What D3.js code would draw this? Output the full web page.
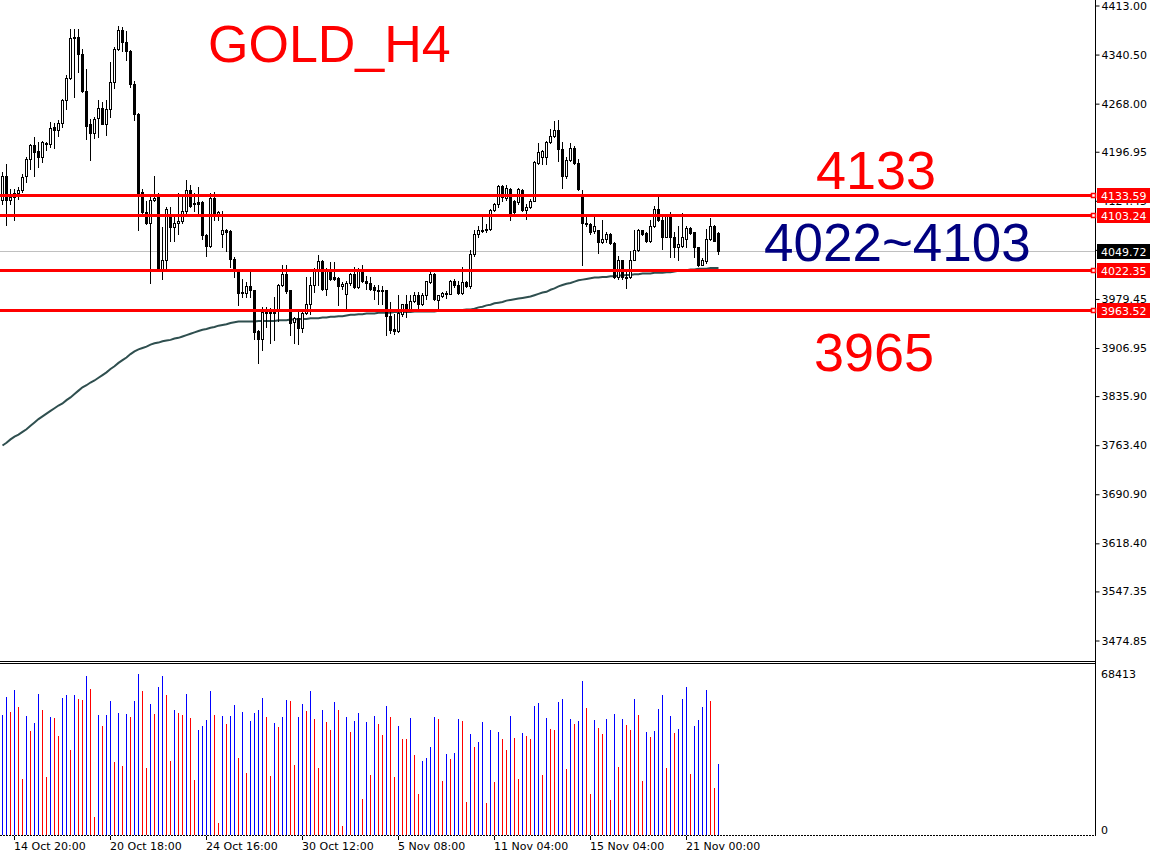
<!DOCTYPE html>
<html><head><meta charset="utf-8">
<script src="https://cdn.jsdelivr.net/npm/d3@7"></script>
<style>html,body{margin:0;padding:0;background:#fff;}svg{display:block;}</style>
</head><body>
<svg id="c" width="1150" height="856"></svg>
<script>
// ---- DATA ----
const timeTickIndex = [3, 27, 51, 75, 99, 123, 147, 171];
const timeTickLabels = ["14 Oct 20:00", "20 Oct 18:00", "24 Oct 16:00", "30 Oct 12:00", "5 Nov 08:00", "11 Nov 04:00", "15 Nov 04:00", "21 Nov 00:00"];
const priceTicks = [4413.00, 4340.50, 4268.00, 4196.95, 4124.45, 4051.95, 3979.45, 3906.95, 3835.90, 3763.40, 3690.90, 3618.40, 3547.35, 3474.85];
const levels = [4133.59, 4103.24, 4022.35, 3963.52];
const lastPrice = 4049.72;
const volumeTicks = [68413, 0];

const open = [4125.9,4161.8,4125.9,4129.8,4135.7,4140.7,4160.4,4186.5,4207.6,4197.8,4189.9,4209.6,4208.6,4233.3,4229.3,4239.7,4272.7,4306.1,4365.2,4367.2,4341.6,4287.4,4237.2,4224.4,4247.0,4261.8,4238.2,4260.3,4299.7,4349.0,4377.1,4358.8,4346.5,4297.3,4253.0,4137.2,4108.6,4091.4,4125.9,4129.8,4023.9,4036.3,4100.3,4085.5,4091.4,4094.4,4109.2,4140.7,4119.0,4122.5,4122.5,4073.2,4058.4,4128.8,4105.2,4075.7,4080.6,4079.6,4038.7,4022.5,3988.0,3988.0,3997.9,3992.0,3931.9,3920.5,3959.9,3958.5,3959.9,3962.4,4000.8,4015.6,3992.0,3945.2,3951.6,3936.8,3959.0,3972.3,4000.8,4021.5,4034.8,3994.4,4020.5,4011.7,4010.7,3998.9,3987.0,4002.8,4016.6,3996.9,4022.5,4006.7,4002.8,3996.9,3993.0,3993.0,3993.0,3955.0,3935.3,3931.9,3957.5,3971.3,3964.4,3976.2,3986.0,3971.3,3986.0,4004.3,4016.6,3977.2,3984.1,3988.0,3987.0,4006.7,3999.4,3988.0,4004.3,3997.9,4046.1,4074.7,4080.6,4080.6,4083.0,4111.1,4119.0,4145.6,4128.8,4142.1,4124.9,4122.5,4140.7,4111.1,4116.0,4124.9,4180.1,4188.9,4189.9,4211.1,4219.5,4229.3,4201.2,4161.8,4185.0,4202.7,4181.0,4134.8,4091.4,4090.4,4079.6,4080.6,4063.3,4068.3,4075.7,4061.9,4011.6,4036.3,4011.6,4011.6,4037.2,4052.0,4080.6,4076.6,4064.8,4086.5,4112.6,4096.3,4071.7,4102.7,4071.7,4056.9,4058.4,4068.3,4084.0,4078.1,4055.9,4030.3,4035.3,4068.3,4086.5,4076.6];
const high = [4166.8,4179.1,4142.1,4142.1,4144.6,4164.3,4189.9,4208.6,4218.5,4211.1,4212.6,4211.1,4240.6,4239.2,4243.1,4275.1,4309.6,4378.5,4378.5,4378.5,4349.0,4319.4,4245.6,4248.0,4273.6,4270.2,4272.7,4329.3,4351.5,4382.0,4381.0,4375.1,4347.5,4301.2,4253.5,4142.1,4124.9,4129.8,4160.4,4135.7,4085.5,4115.1,4116.0,4105.2,4135.7,4129.8,4154.5,4147.1,4135.7,4144.6,4124.9,4075.7,4135.7,4137.2,4109.2,4109.2,4082.5,4080.6,4041.2,4022.5,4009.2,4004.3,4019.0,3992.5,3932.9,3968.3,3967.3,3966.3,3982.1,4001.8,4028.9,4028.9,3993.0,3952.6,3964.9,3962.4,4011.7,4012.6,4024.5,4045.1,4036.3,4025.0,4033.8,4033.8,4011.7,4004.3,4006.7,4017.6,4026.5,4025.4,4028.9,4014.1,4012.6,3999.4,3999.4,3997.9,3993.0,3974.7,3957.5,3986.0,3972.3,3986.0,3986.0,3989.5,3989.5,3988.0,4006.7,4019.0,4017.6,3986.0,3989.5,3991.0,4007.7,4009.2,4006.7,4026.5,4005.7,4052.0,4080.6,4086.5,4105.2,4089.5,4112.6,4121.0,4148.5,4148.5,4147.1,4143.6,4125.9,4143.6,4142.1,4120.0,4127.4,4184.0,4209.6,4198.8,4212.6,4230.8,4242.1,4244.1,4211.1,4189.9,4209.6,4204.7,4186.5,4139.7,4105.2,4091.4,4105.2,4081.6,4095.4,4078.1,4076.6,4063.3,4043.6,4037.2,4024.0,4051.0,4081.6,4083.0,4081.6,4078.1,4095.4,4117.5,4129.8,4102.7,4105.2,4107.7,4078.1,4086.5,4106.2,4086.5,4085.5,4078.6,4056.4,4040.2,4083.0,4099.3,4088.0,4078.1];
const low = [4119.0,4089.4,4119.0,4095.4,4127.4,4137.2,4152.0,4171.7,4161.8,4174.2,4181.5,4198.8,4203.7,4202.7,4219.5,4233.3,4260.3,4305.0,4277.6,4314.5,4285.0,4216.0,4185.0,4217.5,4218.5,4237.2,4221.0,4248.0,4291.4,4347.5,4345.5,4331.8,4293.3,4243.1,4080.6,4102.8,4090.4,4002.8,4124.9,4022.5,4009.2,4020.5,4065.8,4064.8,4075.7,4091.4,4105.2,4116.0,4109.2,4105.2,4068.3,4042.2,4056.9,4095.4,4095.4,4056.0,4051.0,4026.4,4011.6,3969.8,3982.1,3982.1,3982.1,3920.5,3884.6,3903.3,3937.8,3914.1,3919.1,3946.6,3997.9,3988.0,3925.5,3914.1,3913.2,3930.4,3957.5,3957.5,3989.5,3999.4,3993.0,3986.0,4007.7,4007.7,3969.8,3994.4,3963.4,4000.8,3995.9,3995.9,4004.3,3994.4,3993.0,3979.6,3971.3,3971.3,3925.5,3928.9,3927.9,3930.4,3955.0,3953.5,3963.4,3974.7,3964.9,3969.8,3979.6,4002.8,3977.2,3963.4,3982.1,3981.1,3987.0,3996.9,3987.0,3987.0,3996.9,3995.9,4043.6,4071.7,4078.1,4078.1,4080.6,4110.1,4116.0,4124.9,4125.9,4096.3,4102.7,4120.0,4110.1,4097.8,4114.1,4123.9,4179.1,4178.1,4178.1,4209.6,4218.5,4183.0,4143.6,4158.4,4184.0,4179.1,4139.7,4028.9,4086.5,4075.7,4076.6,4047.1,4061.9,4063.3,4060.9,4010.6,4009.2,4009.2,3995.9,4010.6,4036.3,4051.0,4073.2,4063.3,4063.3,4085.5,4094.4,4053.5,4070.7,4041.2,4041.2,4037.2,4055.9,4055.9,4075.7,4041.2,4027.4,4028.9,4032.3,4066.8,4064.8,4046.1];
const close = [4161.8,4125.9,4129.8,4135.7,4140.7,4159.4,4186.5,4207.6,4196.3,4189.0,4211.1,4208.1,4232.3,4229.3,4239.7,4272.7,4306.1,4365.2,4367.2,4341.6,4286.4,4235.7,4224.4,4245.6,4261.8,4238.2,4260.3,4299.7,4349.0,4377.1,4358.8,4345.5,4297.3,4253.0,4135.7,4107.7,4091.4,4125.9,4128.8,4023.9,4036.3,4112.6,4085.5,4091.4,4094.4,4109.2,4140.7,4117.5,4121.0,4120.0,4073.2,4058.4,4128.8,4105.2,4107.7,4080.6,4079.1,4038.7,4021.5,3988.0,3989.5,3997.9,3992.0,3930.4,3920.5,3959.9,3958.5,3959.9,3960.5,4000.8,4015.6,3991.0,3943.7,3951.6,3936.8,3959.0,3972.3,4000.8,4024.0,4034.8,3994.4,4022.5,4009.2,4008.7,3998.4,4001.8,4002.8,4016.6,3996.9,4022.5,4005.7,4002.8,3994.4,3993.0,3991.5,3991.0,3954.0,3933.8,3931.9,3958.5,3971.3,3963.4,3976.2,3986.0,3971.3,3986.0,4005.7,4016.6,3979.6,3984.6,3988.0,3987.0,4006.7,3999.4,3988.0,4004.3,3997.9,4046.1,4074.7,4080.6,4081.6,4083.0,4111.1,4119.0,4145.6,4129.8,4143.6,4105.2,4107.7,4142.1,4111.1,4116.0,4124.9,4181.5,4196.3,4197.8,4211.1,4219.5,4229.3,4201.2,4161.8,4185.0,4202.7,4180.1,4142.1,4091.4,4089.5,4078.1,4086.5,4063.3,4068.3,4075.7,4061.9,4011.6,4036.3,4011.6,4012.6,4037.2,4052.0,4080.6,4075.7,4064.8,4086.5,4112.6,4095.4,4071.7,4102.7,4071.7,4056.9,4060.9,4071.7,4084.0,4076.6,4055.9,4028.9,4036.3,4068.3,4086.5,4065.8,4049.72];
const ma = [3763,3767,3772,3776,3779,3783,3787,3792,3797,3802,3806,3810,3814,3818,3822,3825,3830,3834,3839,3844,3849,3852,3856,3859,3863,3867,3871,3876,3880,3885,3889,3893,3898,3902,3905,3907,3909,3912,3914,3915,3917,3918,3919,3921,3922,3924,3926,3928,3930,3932,3934,3935,3937,3938,3940,3941,3942,3944,3945,3946,3946,3946,3946,3946,3947,3947,3947,3947,3947,3948,3948,3948,3949,3949,3950,3950,3950,3951,3951,3951,3952,3952,3953,3953,3954,3954,3955,3956,3956,3957,3957,3958,3958,3958,3959,3959,3959,3959,3960,3960,3960,3960,3960,3961,3961,3961,3961,3961,3961,3962,3962,3962,3962,3963,3963,3963,3964,3964,3965,3967,3968,3970,3971,3973,3974,3975,3977,3978,3979,3980,3981,3982,3983,3985,3987,3989,3990,3993,3995,3998,4000,4002,4003,4005,4007,4008,4009,4010,4011,4011,4012,4012,4013,4013,4014,4014,4015,4015,4016,4016,4017,4017,4017,4018,4018,4018,4019,4019,4020,4021,4021,4022,4023,4023,4024,4024,4024,4025,4025,4025];
const volume = [50989,58495,52264,61611,54388,23796,50564,44191,47590,59912,53113,24646,50139,49714,42066,58212,59487,36118,59628,57787,57362,67560,62036,7650,50989,46315,50989,56938,31019,51839,29320,51414,50139,56938,68413,61186,28470,55663,51414,62886,67560,59487,31444,53113,51839,50989,59912,49714,23371,44616,46315,48865,61186,50989,5101,50564,47165,50564,55238,32719,52264,26345,48440,51839,53113,58212,50139,25071,47590,45890,50139,57362,56938,29745,50139,55663,52689,61186,49289,28470,53113,48015,44616,56513,53113,3826,50139,43766,48440,51839,15298,48015,25496,50564,47165,42491,54813,50139,24646,46315,40792,40650,49714,33993,17423,31444,32719,37393,50139,49289,22946,34418,32294,34843,49289,48440,14024,42916,37393,39517,48015,13599,44616,22521,43766,40792,36118,50564,41217,23796,43341,42066,40792,54813,56088,25496,49714,45041,44616,56513,57787,28045,49289,47165,48440,65435,53963,17423,48865,45465,42916,49289,14873,51414,28895,49289,46740,44616,57787,50989,22946,43766,41641,44191,53538,59487,28470,50564,43341,45041,57787,62886,25921,46315,48865,54388,61611,56938,19972,30169];

// ---- CHART ----
const svg = d3.select("#c");
const W = 1150, H = 856, axisX = 1095.5;
const x = d3.scaleLinear().domain([0, 273]).range([2.5, 1094.5]);
const y = d3.scaleLinear().domain([4413, 3474.85]).range([5.5, 640.5]);
const yv = d3.scaleLinear().domain([0, 68413]).range([835, 674]);
const px = i => Math.floor(x(i));
const ly = v => Math.round(y(v)) + 0.5;

svg.append("rect").attr("width", W).attr("height", H).attr("fill", "#fff");
svg.append("defs").append("clipPath").attr("id", "mainClip")
  .append("rect").attr("x", 0).attr("y", 0).attr("width", axisX).attr("height", 660);

const main = svg.append("g").attr("clip-path", "url(#mainClip)");

// current price grey line
main.append("line").attr("x1", 0).attr("x2", axisX).attr("y1", ly(lastPrice)).attr("y2", ly(lastPrice))
  .attr("stroke", "#c0c0c0").attr("stroke-width", 1);

// moving average
main.append("path").datum(ma)
  .attr("d", d3.line().x((d, i) => x(i)).y(d => y(d)))
  .attr("fill", "none").attr("stroke", "#2f4f4f").attr("stroke-width", 2);

// candles
const idx = d3.range(open.length);
const cg = main.append("g").attr("shape-rendering", "crispEdges");
cg.selectAll("line.wick").data(idx).join("line")
  .attr("x1", i => px(i) + 0.5).attr("x2", i => px(i) + 0.5)
  .attr("y1", i => Math.round(y(high[i]))).attr("y2", i => Math.round(y(low[i])) + 1)
  .attr("stroke", "#000").attr("stroke-width", 1);
cg.selectAll("rect.body").data(idx).join("rect")
  .attr("x", i => close[i] >= open[i] ? px(i) - 0.5 : px(i) - 1)
  .attr("width", i => close[i] >= open[i] ? 2 : 3)
  .attr("y", i => { const t = Math.round(y(Math.max(open[i], close[i]))); return close[i] >= open[i] ? t + 0.5 : t; })
  .attr("height", i => { const t = Math.round(y(Math.max(open[i], close[i]))), b = Math.round(y(Math.min(open[i], close[i]))); return Math.max(close[i] >= open[i] ? b - t : b - t + 1, 1); })
  .attr("fill", i => close[i] >= open[i] ? "#fff" : "#000")
  .attr("stroke", i => close[i] >= open[i] ? "#000" : "none")
  .attr("stroke-width", 1);

// level lines
main.selectAll("line.lvl").data(levels).join("line")
  .attr("x1", 0).attr("x2", axisX).attr("y1", d => ly(d)).attr("y2", d => ly(d))
  .attr("stroke", "#ff0000").attr("stroke-width", 3).attr("shape-rendering", "crispEdges");

// annotation texts
const big = "'Liberation Sans', Arial, sans-serif";
svg.append("text").attr("x", 208).attr("y", 62).attr("font-family", big).attr("font-size", 52).attr("fill", "#ff0000").text("GOLD_H4");
svg.append("text").attr("x", 816).attr("y", 189).attr("font-family", big).attr("font-size", 54).attr("fill", "#ff0000").text("4133");
svg.append("text").attr("x", 764).attr("y", 261).attr("font-family", big).attr("font-size", 53).attr("fill", "#000080").text("4022~4103");
svg.append("text").attr("x", 814).attr("y", 371).attr("font-family", big).attr("font-size", 54).attr("fill", "#ff0000").text("3965");

// volume bars
svg.append("g").attr("shape-rendering", "crispEdges").selectAll("line").data(volume).join("line")
  .attr("x1", (d, i) => px(i) + 0.5).attr("x2", (d, i) => px(i) + 0.5)
  .attr("y1", d => yv(d)).attr("y2", 835)
  .attr("stroke", (d, i) => (i === 0 || d > volume[i - 1]) ? "#0000ff" : "#ff0000").attr("stroke-width", 1);

// frame lines
const fr = svg.append("g").attr("shape-rendering", "crispEdges").attr("stroke", "#000");
fr.append("line").attr("x1", axisX).attr("x2", axisX).attr("y1", 0).attr("y2", 836);
fr.append("line").attr("x1", 0).attr("x2", axisX).attr("y1", 661.5).attr("y2", 661.5);
fr.append("line").attr("x1", 0).attr("x2", axisX).attr("y1", 663.5).attr("y2", 663.5);
fr.append("line").attr("x1", 0).attr("x2", axisX).attr("y1", 835.5).attr("y2", 835.5).attr("stroke-dasharray", "2,1").attr("stroke-width", 1.5);

const axFont = "'DejaVu Sans', Verdana, sans-serif";
// price axis
const yAxis = d3.axisRight(y).tickValues(priceTicks).tickFormat(d => d.toFixed(2)).tickSize(4).tickPadding(2);
const ya = svg.append("g").attr("transform", `translate(${axisX},0)`).call(yAxis);
ya.select(".domain").remove();
ya.selectAll("text").attr("font-family", axFont).attr("font-size", 11).attr("fill", "#000");
ya.selectAll("line").attr("stroke", "#000");

// volume axis labels
svg.selectAll("text.vt").data(volumeTicks).join("text")
  .attr("x", 1101).attr("y", d => d === 0 ? 834 : yv(d) + 4)
  .attr("font-family", axFont).attr("font-size", 11).attr("fill", "#000").text(d => String(d));

// time axis
const xAxis = d3.axisBottom(x).tickValues(timeTickIndex).tickFormat((d, k) => timeTickLabels[k]).tickSize(4).tickPadding(2);
const xa = svg.append("g").attr("transform", "translate(0,836)").call(xAxis);
xa.select(".domain").remove();
xa.selectAll(".tick line").attr("stroke", "#000").attr("transform", "translate(-0.5,0)");
xa.selectAll("text").attr("font-family", axFont).attr("font-size", 11).attr("fill", "#000").attr("text-anchor", "start").attr("dx", -1);

// level labels
const lg = svg.append("g");
levels.forEach(v => {
  const cy = ly(v);
  lg.append("rect").attr("x", 1097).attr("y", cy - 7.5).attr("width", 53).attr("height", 15).attr("fill", "#ff0000");
  lg.append("rect").attr("x", 1091.5).attr("y", cy - 2).attr("width", 4).attr("height", 4).attr("fill", "#fff").attr("stroke", "#ff0000").attr("stroke-width", 1.5);
  lg.append("text").attr("x", 1101).attr("y", cy + 4).attr("font-family", axFont).attr("font-size", 11).attr("fill", "#fff").text(v.toFixed(2));
});
// last price label
lg.append("rect").attr("x", 1097).attr("y", ly(lastPrice) - 7.5).attr("width", 53).attr("height", 15).attr("fill", "#000");
lg.append("text").attr("x", 1101).attr("y", ly(lastPrice) + 4).attr("font-family", axFont).attr("font-size", 11).attr("fill", "#fff").text(lastPrice.toFixed(2));
</script>
</body></html>
